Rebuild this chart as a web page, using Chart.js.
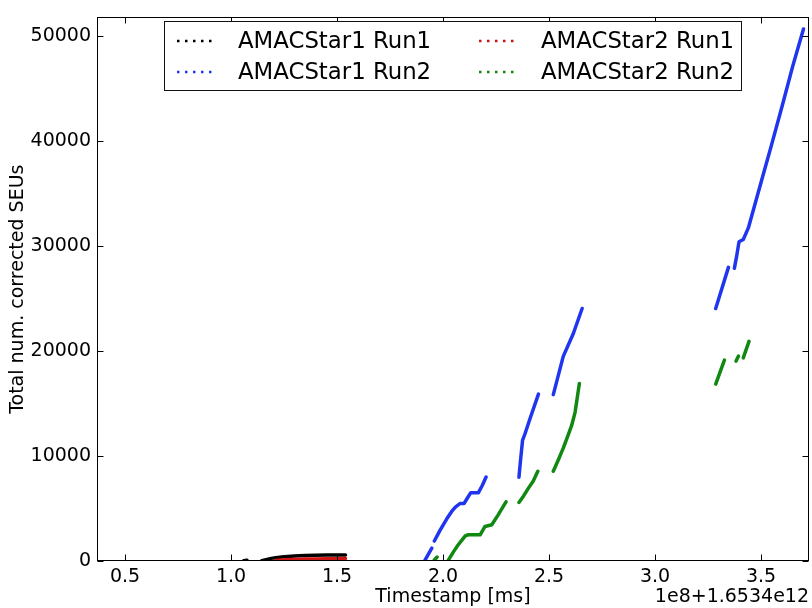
<!DOCTYPE html>
<html>
<head>
<meta charset="utf-8">
<title>Total num. corrected SEUs</title>
<script src="https://cdn.jsdelivr.net/npm/chart.js@4.4.1/dist/chart.umd.min.js"></script>
<style>
    body { margin: 0; background: #fff; }
    #wrap { width: 812px; height: 608px; }
</style>
</head>
<body>
<div id="wrap"><canvas id="seuGraph" width="812" height="608"></canvas></div>
<script>
// timestamps are in units of 1e8 ms, offset by 1.6534e12 ms; null y = no data (gap)
const star1Run1X = [1.060, 1.075, 1.110, 1.145, 1.170, 1.190, 1.210, 1.250, 1.300, 1.350, 1.400, 1.450, 1.500, 1.540];
const star1Run1Y = [20, 80, null, 20, 150, 250, 300, 400, 470, 520, 550, 560, 560, 570];

const star1Run2X = [1.915, 1.947, 1.953,
    1.959, 1.985, 2.017, 2.040, 2.057, 2.080, 2.099, 2.115, 2.131, 2.167, 2.185, 2.203, 2.280,
    2.358, 2.365, 2.375, 2.387, 2.410, 2.450, 2.485,
    2.520, 2.567, 2.615, 2.656, 2.970,
    3.286, 3.346, 3.360,
    3.374, 3.385, 3.396, 3.416, 3.440, 3.500, 3.550, 3.600, 3.650, 3.700];
const star1Run2Y = [90, 1220, null,
    1900, 2900, 4000, 4700, 5100, 5480, 5480, 6000, 6510, 6510, 7200, 8000, null,
    7990, 9500, 11500, 12150, 13560, 15900, null,
    15850, 19500, 21700, 24060, null,
    24060, 27980, null,
    27890, 29070, 30420, 30640, 31740, 36100, 39700, 43400, 47200, 50690];

const star2Run1X = [1.210, 1.250, 1.300, 1.350, 1.400, 1.450, 1.500, 1.540];
const star2Run1Y = [40, 110, 150, 180, 200, 210, 220, 230];

const star2Run2X = [1.959, 1.972, 2.000,
    2.025, 2.049, 2.070, 2.088, 2.105, 2.119, 2.175, 2.198, 2.230, 2.260, 2.297, 2.330,
    2.358, 2.380, 2.402, 2.425, 2.447, 2.485,
    2.520, 2.545, 2.567, 2.590, 2.607, 2.623, 2.643, 2.970,
    3.286, 3.327, 3.355,
    3.382, 3.393, 3.405,
    3.416, 3.443];
const star2Run2Y = [100, 380, null,
    90, 870, 1500, 1970, 2400, 2500, 2500, 3290, 3450, 4400, 5640, null,
    5580, 6200, 6920, 7600, 8550, null,
    8550, 9700, 10750, 12000, 12940, 14190, 16920, null,
    16860, 19140, null,
    19050, 19520, null,
    19360, 20930];

const xTicks = [0.5, 1.0, 1.5, 2.0, 2.5, 3.0, 3.5];
const yTicks = [0, 10000, 20000, 30000, 40000, 50000];
const offsetLabel = '1e8+1.6534e12';

function toPoints(xs, ys) {
    return xs.map((x, i) => ({ x: x, y: ys[i] }));
}

const series = [
    { label: 'AMACStar1 Run1', x: star1Run1X, y: star1Run1Y, color: '#000000' },
    { label: 'AMACStar1 Run2', x: star1Run2X, y: star1Run2Y, color: '#1f35f0' },
    { label: 'AMACStar2 Run1', x: star2Run1X, y: star2Run1Y, color: '#d01414' },
    { label: 'AMACStar2 Run2', x: star2Run2X, y: star2Run2Y, color: '#118811' },
];

const FONT = 'DejaVu Sans';
Chart.defaults.font.family = FONT;
Chart.defaults.font.size = 19;
Chart.defaults.color = '#000';

// frame, inward ticks on all four sides, legend box and the offset label
const axesDecor = {
    id: 'axesDecor',
    afterDraw(chart) {
        const ctx = chart.ctx;
        const a = chart.chartArea;
        const L = Math.round(a.left) + 0.5, R = Math.round(a.right) - 0.5;
        const T = Math.round(a.top) + 0.5, B = Math.round(a.bottom) - 0.5;
        const tick = 6;
        ctx.save();
        ctx.strokeStyle = '#000';
        ctx.lineWidth = 1;
        ctx.beginPath();
        chart.scales.x.ticks.forEach(t => {
            const px = Math.round(chart.scales.x.getPixelForValue(t.value)) + 0.5;
            ctx.moveTo(px, B); ctx.lineTo(px, B - tick);
            ctx.moveTo(px, T); ctx.lineTo(px, T + tick);
        });
        chart.scales.y.ticks.forEach(t => {
            const py = Math.round(chart.scales.y.getPixelForValue(t.value)) + 0.5;
            ctx.moveTo(L, py); ctx.lineTo(L + tick, py);
            ctx.moveTo(R, py); ctx.lineTo(R - tick, py);
        });
        ctx.stroke();
        ctx.strokeRect(L, T, R - L, B - T);

        // legend, filled column by column
        const box = { left: 164.5, top: 21.5, right: 741.5, bottom: 90.5 };
        ctx.fillStyle = '#fff';
        ctx.fillRect(box.left, box.top, box.right - box.left, box.bottom - box.top);
        ctx.strokeStyle = '#111';
        ctx.strokeRect(box.left, box.top, box.right - box.left, box.bottom - box.top);
        const cols = [{ handle: 177, text: 238 }, { handle: 479, text: 541 }];
        const rows = [41, 72];
        ctx.font = '22.8px "' + FONT + '"';
        ctx.textBaseline = 'middle';
        ctx.textAlign = 'left';
        chart.data.datasets.forEach((ds, i) => {
            const c = cols[Math.floor(i / 2)], y = rows[i % 2];
            ctx.strokeStyle = ds.borderColor;
            ctx.lineWidth = 2.5;
            ctx.setLineDash([2.5, 5.5]);
            ctx.beginPath();
            ctx.moveTo(c.handle, y);
            ctx.lineTo(c.handle + 36, y);
            ctx.stroke();
            ctx.setLineDash([]);
            ctx.fillStyle = '#000';
            ctx.fillText(ds.label, c.text, y + 1);
        });

        ctx.font = '19px "' + FONT + '"';
        ctx.textAlign = 'right';
        ctx.textBaseline = 'alphabetic';
        ctx.fillText(offsetLabel, 809, 602);
        ctx.restore();
    }
};

const seuGraph = document.getElementById('seuGraph');

new Chart(seuGraph, {
    type: 'line',
    data: {
        datasets: series.map((s, i) => ({
            label: s.label,
            data: toPoints(s.x, s.y),
            borderColor: s.color,
            backgroundColor: s.color,
            borderWidth: 3.5,
            borderCapStyle: 'round',
            borderJoinStyle: 'round',
            pointRadius: 0,
            tension: 0,
            spanGaps: false,
            clip: 0,
            order: series.length - i
        }))
    },
    options: {
        responsive: false,
        animation: false,
        events: [],
        layout: { padding: { top: 10, right: 3, left: 0, bottom: 0 } },
        plugins: {
            legend: { display: false },
            tooltip: { enabled: false }
        },
        scales: {
            x: {
                type: 'linear',
                min: 0.368,
                max: 3.726,
                grid: { display: false, drawTicks: false },
                border: { display: false },
                ticks: {
                    autoSkip: false,
                    maxRotation: 0,
                    padding: 5,
                    callback: v => v.toFixed(1)
                },
                afterBuildTicks: s => { s.ticks = xTicks.map(v => ({ value: v })); },
                title: { display: true, text: 'Timestamp [ms]', padding: { top: 0, bottom: 0 } },
                afterFit: s => { s.height = 47; }
            },
            y: {
                type: 'linear',
                min: 0,
                max: 51800,
                grid: { display: false, drawTicks: false },
                border: { display: false },
                ticks: {
                    padding: 6,
                    callback: v => String(v)
                },
                afterBuildTicks: s => { s.ticks = yTicks.map(v => ({ value: v })); },
                title: { display: true, text: 'Total num. corrected SEUs', padding: { top: 7, bottom: 0 } },
                afterFit: s => { s.width = 97; }
            }
        }
    },
    plugins: [axesDecor]
});
</script>
</body>
</html>
